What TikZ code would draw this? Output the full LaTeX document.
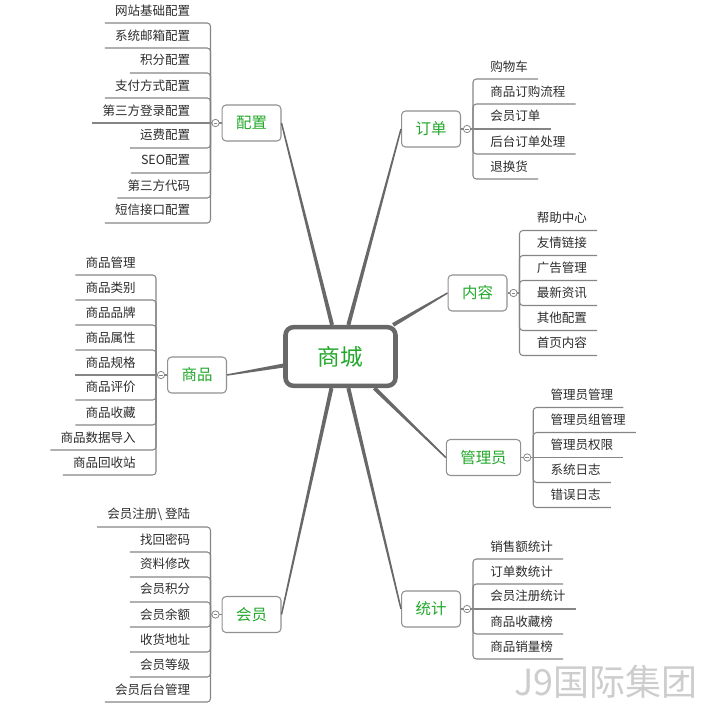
\documentclass[tikz,border=0pt]{standalone}
\usepackage{fontspec}
\setmainfont{Noto Sans CJK SC}
\usetikzlibrary{calc}
\definecolor{mmline}{HTML}{686868}
\definecolor{mmleaf}{HTML}{858585}
\definecolor{mmtext}{HTML}{2C2C2C}
\definecolor{mmgreen}{HTML}{22A82A}
\definecolor{mmmark}{HTML}{CDCDCD}
\tikzset{
  mall/.style={draw=mmline, line width=3.4pt, rounded corners=6pt, fill=white,
    minimum width=82.5pt, minimum height=44pt, text=mmgreen, font=\fontsize{17}{20}\selectfont},
  topic/.style={draw=mmleaf!90, line width=0.8pt, rounded corners=3pt, fill=white,
    minimum height=27pt, inner xsep=10.5pt, text=mmgreen, font=\fontsize{11.6}{14}\selectfont},
  leafitem/.style={inner xsep=7.5pt, inner ysep=0pt, minimum height=18.75pt,
    text=mmtext, font=\fontsize{9.4}{11}\selectfont},
  leaf/.style={draw=mmleaf, line width=0.8pt, rounded corners=2.5pt},
  trunk/.style={fill=mmline},
  fold/.style={circle, draw=mmleaf, fill=white, line width=0.6pt, minimum size=5.5pt, inner sep=0pt,
    path picture={\draw[mmleaf, line width=0.5pt] ([xshift=-1.4pt]path picture bounding box.center)
      -- ([xshift=1.4pt]path picture bounding box.center);}}
}
\newcommand\trunkline[2]{%
  \fill[trunk] ($(#1)!1.5pt!90:(#2)$) -- ($(#2)!0.55pt!-90:(#1)$)
    -- ($(#2)!0.55pt!90:(#1)$) -- ($(#1)!1.5pt!-90:(#2)$) -- cycle;}
\newcommand\rightleaves[3]{%
  \draw[leaf] (#1.east) -- ($(#1.east)+(12,0)$);
  \node[fold] at ($(#1.east)+(6,0)$) {};
  \foreach \t [count=\i] in {#3} {
    \pgfmathsetmacro\dy{(\i-(#2+1)/2)*25}
    \node[leafitem, anchor=south west] (#1-\i) at ($(#1.east)+(19,\dy)$) {\t};
    \ifdim\dy pt=0pt
      \draw[leaf] ($(#1.east)+(12,0)$) -- (#1-\i.south east);
    \else
      \draw[leaf] ($(#1.east)+(12,0)$) -- ($(#1.east)+(12,\dy)$) -- (#1-\i.south east);
    \fi
  }%
}
\newcommand\leftleaves[3]{%
  \draw[leaf] (#1.west) -- ($(#1.west)+(-11,0)$);
  \node[fold] at ($(#1.west)+(-6,0)$) {};
  \foreach \t [count=\i] in {#3} {
    \pgfmathsetmacro\dy{(\i-(#2+1)/2)*25}
    \node[leafitem, anchor=south east] (#1-\i) at ($(#1.west)+(-21,\dy)$) {\t};
    \ifdim\dy pt=0pt
      \draw[leaf] ($(#1.west)+(-11,0)$) -- (#1-\i.south west);
    \else
      \draw[leaf] ($(#1.west)+(-11,0)$) -- ($(#1.west)+(-11,\dy)$) -- (#1-\i.south west);
    \fi
  }%
}

\begin{document}
\begin{tikzpicture}[x=0.75pt, y=-0.75pt]
\useasboundingbox (0,0) rectangle (716,710);
\node[mall] (mall) at (340.5,356.5) {商城};
\node[topic] (config) at (251.5,123) {配置};
\node[topic] (order) at (431,129) {订单};
\node[topic] (content) at (477.5,293) {内容};
\node[topic] (admin) at (483.5,457.5) {管理员};
\node[topic] (stats) at (431,609) {统计};
\node[topic] (goods) at (197,375) {商品};
\node[topic] (member) at (251.5,614.5) {会员};

\trunkline{mall.105.5}{config.east}
\trunkline{mall.76}{order.west}
\trunkline{mall.31}{content.west}
\trunkline{mall.-43}{admin.west}
\trunkline{mall.-76}{stats.west}
\trunkline{mall.-106}{member.east}
\trunkline{mall.189.7}{goods.east}

\leftleaves{config}{9}{网站基础配置,系统邮箱配置,积分配置,支付方式配置,第三方登录配置,运费配置,SEO配置,第三方代码,短信接口配置}
\rightleaves{order}{5}{购物车,商品订购流程,会员订单,后台订单处理,退换货}
\rightleaves{content}{6}{帮助中心,友情链接,广告管理,最新资讯,其他配置,首页内容}
\rightleaves{admin}{5}{管理员管理,管理员组管理,管理员权限,系统日志,错误日志}
\rightleaves{stats}{5}{销售额统计,订单数统计,会员注册统计,商品收藏榜,商品销量榜}
\leftleaves{goods}{9}{商品管理,商品类别,商品品牌,商品属性,商品规格,商品评价,商品收藏,商品数据导入,商品回收站}
\leftleaves{member}{8}{会员注册\textbackslash\ 登陆,找回密码,资料修改,会员积分,会员余额,收货地址,会员等级,会员后台管理}

\node[text=mmmark, font=\fontsize{27}{30}\selectfont] (brand) at (606,682) {J9国际集团};
\end{tikzpicture}
\end{document}
